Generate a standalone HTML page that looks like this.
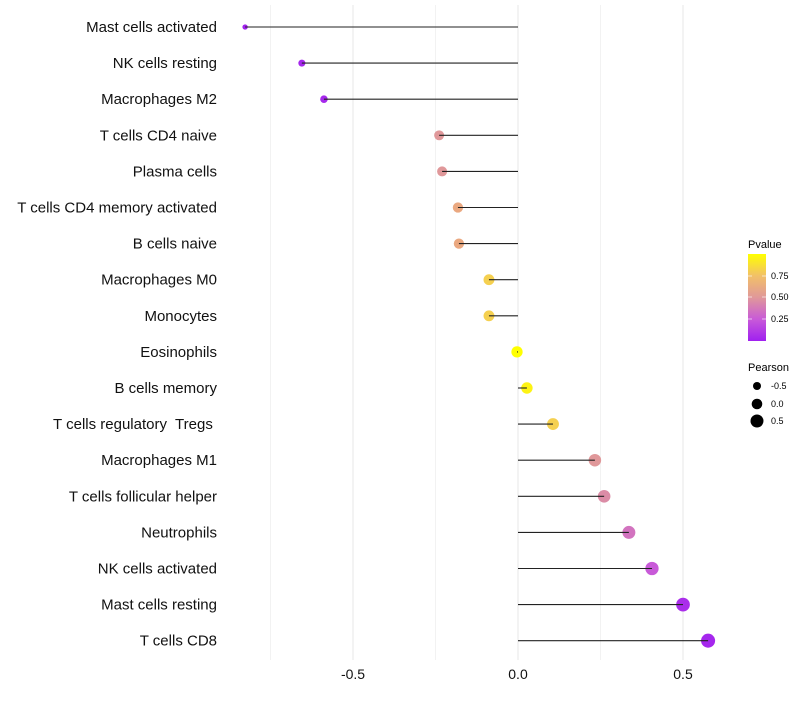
<!DOCTYPE html>
<html><head><meta charset="utf-8"><style>
body{margin:0;background:#fff;font-family:"Liberation Sans",sans-serif}
svg text{font-family:"Liberation Sans",sans-serif;white-space:pre}
</style></head><body>
<svg id="chart" width="800" height="700">
<defs><linearGradient id="pg" x1="0" y1="1" x2="0" y2="0">
<stop offset="0" stop-color="#A020F0"/><stop offset="0.25" stop-color="#C85AD8"/><stop offset="0.5" stop-color="#E0989A"/><stop offset="0.75" stop-color="#F2C068"/><stop offset="1" stop-color="#FFFF00"/></linearGradient></defs>
<g id="grid"></g><g id="marks"></g><g id="labels"></g>
<g>
<text x="748" y="248" font-size="11">Pvalue</text>
<rect x="748" y="254" width="18" height="87" fill="url(#pg)"/>
<line x1="748" x2="752" y1="276" y2="276" stroke="#fff" stroke-opacity=".6"/><line x1="762" x2="766" y1="276" y2="276" stroke="#fff" stroke-opacity=".6"/>
<line x1="748" x2="752" y1="297" y2="297" stroke="#fff" stroke-opacity=".6"/><line x1="762" x2="766" y1="297" y2="297" stroke="#fff" stroke-opacity=".6"/>
<line x1="748" x2="752" y1="319" y2="319" stroke="#fff" stroke-opacity=".6"/><line x1="762" x2="766" y1="319" y2="319" stroke="#fff" stroke-opacity=".6"/>
<text x="771" y="279" font-size="9">0.75</text><text x="771" y="300" font-size="9">0.50</text><text x="771" y="322" font-size="9">0.25</text>
<text x="748" y="371" font-size="11">Pearson</text>
<circle cx="757" cy="386" r="4" fill="#000"/><text x="771" y="389" font-size="9">-0.5</text>
<circle cx="757" cy="404" r="5.3" fill="#000"/><text x="771" y="407" font-size="9">0.0</text>
<circle cx="757" cy="421" r="6.5" fill="#000"/><text x="771" y="424" font-size="9">0.5</text>
</g>
</svg>
<script>
const categories=["Mast cells activated","NK cells resting","Macrophages M2","T cells CD4 naive","Plasma cells","T cells CD4 memory activated","B cells naive","Macrophages M0","Monocytes","Eosinophils","B cells memory","T cells regulatory  Tregs ","Macrophages M1","T cells follicular helper","Neutrophils","NK cells activated","Mast cells resting","T cells CD8"];
const pearson=[-0.827,-0.655,-0.588,-0.239,-0.23,-0.182,-0.179,-0.088,-0.088,-0.003,0.027,0.106,0.233,0.261,0.336,0.406,0.5,0.576];
const pvalue=[0.01,0.03,0.04,0.5,0.5,0.62,0.62,0.8,0.8,1.0,0.95,0.8,0.5,0.45,0.35,0.25,0.06,0.03];
const xTicks=[-0.5,0,0.5];
const xTickLabels=["-0.5","0.0","0.5"];
const xMinor=[-0.75,-0.25,0.25];
const NS="http://www.w3.org/2000/svg";
const xs=v=>518+v*330;
const ys=i=>27+i*36.1;
const rs=v=>Math.sqrt(Math.max(4,32+30*v));
const stops=[[0,[160,32,240]],[0.25,[200,90,216]],[0.5,[224,152,154]],[0.62,[234,168,128]],[0.8,[245,208,80]],[1,[255,255,0]]];
function col(p){for(let k=1;k<stops.length;k++){if(p<=stops[k][0]){const a=stops[k-1],b=stops[k],t=(p-a[0])/(b[0]-a[0]);return "rgb("+a[1].map((c,j)=>Math.round(c+(b[1][j]-c)*t)).join(",")+")";}}return "rgb(255,255,0)";}
function mk(t,at,parent){const e=document.createElementNS(NS,t);for(const k in at)e.setAttribute(k,at[k]);parent.appendChild(e);return e;}
const grid=document.getElementById("grid"),marks=document.getElementById("marks"),labels=document.getElementById("labels");
xMinor.forEach(v=>{const l=mk("line",{x1:xs(v),x2:xs(v),y1:5,y2:660,stroke:"#f2f2f2","stroke-width":1},grid);

});
xTicks.forEach((v,i)=>{const l=mk("line",{x1:xs(v),x2:xs(v),y1:5,y2:660,stroke:"#ebebeb","stroke-width":1.2},grid);


const t=mk("text",{x:xs(v),y:679,"font-size":14,"text-anchor":"middle",fill:"#111"},labels);t.textContent=xTickLabels[i];

});
categories.forEach((c,i)=>{const y=ys(i);
const g=mk("g",{},marks);


const d=mk("circle",{cx:xs(pearson[i]),cy:y,r:rs(pearson[i]),fill:col(pvalue[i])},g);


mk("line",{x1:xs(0),x2:xs(pearson[i]),y1:y,y2:y,stroke:"#222","stroke-width":1.1},g);
const t=mk("text",{x:217,y:y+5,"font-size":15,"text-anchor":"end",fill:"#111"},labels);t.textContent=c;

});
</script>
</body></html>
